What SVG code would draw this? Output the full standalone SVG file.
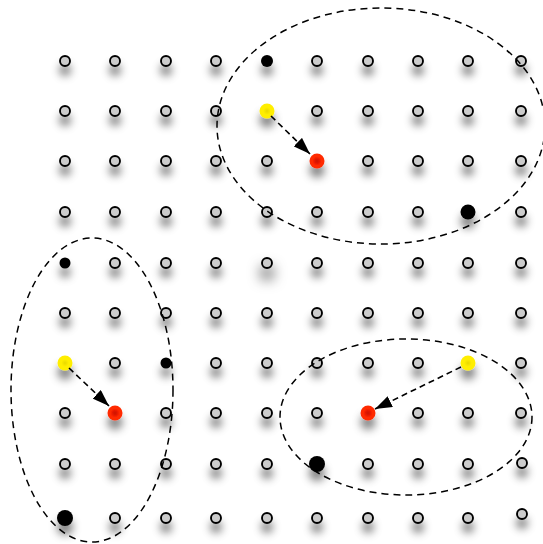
<svg xmlns="http://www.w3.org/2000/svg" width="543" height="544" viewBox="0 0 543 544">
<defs>
<filter id="sh" x="-200%" y="-200%" width="500%" height="500%">
<feGaussianBlur in="SourceAlpha" stdDeviation="4.5" result="b"/>
<feOffset in="b" dy="9" result="o"/>
<feFlood flood-color="#000" flood-opacity="0.5"/>
<feComposite in2="o" operator="in" result="s"/>
<feMerge><feMergeNode in="s"/><feMergeNode in="SourceGraphic"/></feMerge>
</filter>
<filter id="shBig" x="-300%" y="-300%" width="700%" height="700%">
<feGaussianBlur in="SourceAlpha" stdDeviation="7" result="b"/>
<feOffset in="b" dy="10" result="o"/>
<feFlood flood-color="#000" flood-opacity="0.8"/>
<feComposite in2="o" operator="in" result="s"/>
<feMerge><feMergeNode in="s"/><feMergeNode in="SourceGraphic"/></feMerge>
</filter>
<marker id="ah" viewBox="0 0 17 12" refX="17" refY="6" markerWidth="17" markerHeight="12" markerUnits="userSpaceOnUse" orient="auto">
<path d="M0,0 L17,6 L0,12 z" fill="#000"/>
</marker>
<radialGradient id="red"><stop offset="0" stop-color="#cc1500"/><stop offset="0.35" stop-color="#e81a00"/><stop offset="0.6" stop-color="#ff2a00"/></radialGradient>
<radialGradient id="yel"><stop offset="0" stop-color="#e8d800"/><stop offset="0.5" stop-color="#ffee00"/></radialGradient>
</defs>
<style>
.n{fill:#ccc;stroke:#000;stroke-width:1.9}
.b{fill:#000}
.e{fill:none;stroke:#000;stroke-width:1.5;stroke-dasharray:7,5}
.a{fill:none;stroke:#000;stroke-width:1.6;stroke-dasharray:6,4}
</style>
<rect width="543" height="544" fill="#fff"/>
<g id="grid" filter="url(#sh)">
<g id="row1"><circle class="n" cx="65" cy="61" r="5"/><circle class="n" cx="115" cy="61" r="5"/><circle class="n" cx="166" cy="61" r="5"/><circle class="n" cx="216" cy="61" r="5"/><circle class="n" cx="317" cy="61" r="5"/><circle class="n" cx="368" cy="61" r="5"/><circle class="n" cx="418" cy="61" r="5"/><circle class="n" cx="468" cy="61" r="5"/><circle class="n" cx="521" cy="61" r="5"/></g>
<g id="row2"><circle class="n" cx="65" cy="111" r="5"/><circle class="n" cx="115" cy="111" r="5"/><circle class="n" cx="166" cy="111" r="5"/><circle class="n" cx="216" cy="111" r="5"/><circle class="n" cx="317" cy="111" r="5"/><circle class="n" cx="368" cy="111" r="5"/><circle class="n" cx="418" cy="111" r="5"/><circle class="n" cx="468" cy="111" r="5"/><circle class="n" cx="521" cy="111" r="5"/></g>
<g id="row3"><circle class="n" cx="65" cy="161" r="5"/><circle class="n" cx="115" cy="161" r="5"/><circle class="n" cx="166" cy="161" r="5"/><circle class="n" cx="216" cy="161" r="5"/><circle class="n" cx="267" cy="161" r="5"/><circle class="n" cx="368" cy="161" r="5"/><circle class="n" cx="418" cy="161" r="5"/><circle class="n" cx="468" cy="161" r="5"/><circle class="n" cx="521" cy="161" r="5"/></g>
<g id="row4"><circle class="n" cx="65" cy="212" r="5"/><circle class="n" cx="115" cy="212" r="5"/><circle class="n" cx="166" cy="212" r="5"/><circle class="n" cx="216" cy="212" r="5"/><circle class="n" cx="267" cy="212" r="5"/><circle class="n" cx="317" cy="212" r="5"/><circle class="n" cx="368" cy="212" r="5"/><circle class="n" cx="418" cy="212" r="5"/><circle class="n" cx="521" cy="212" r="5"/></g>
<g id="row5"><circle class="n" cx="115" cy="263" r="5"/><circle class="n" cx="166" cy="263" r="5"/><circle class="n" cx="216" cy="263" r="5"/><circle class="n" cx="317" cy="263" r="5"/><circle class="n" cx="368" cy="263" r="5"/><circle class="n" cx="418" cy="263" r="5"/><circle class="n" cx="468" cy="263" r="5"/><circle class="n" cx="521" cy="263" r="5"/></g>
<g id="row6"><circle class="n" cx="65" cy="313" r="5"/><circle class="n" cx="115" cy="313" r="5"/><circle class="n" cx="166" cy="313" r="5"/><circle class="n" cx="216" cy="313" r="5"/><circle class="n" cx="267" cy="313" r="5"/><circle class="n" cx="317" cy="313" r="5"/><circle class="n" cx="368" cy="313" r="5"/><circle class="n" cx="418" cy="313" r="5"/><circle class="n" cx="468" cy="313" r="5"/><circle class="n" cx="521" cy="313" r="5"/></g>
<g id="row7"><circle class="n" cx="115" cy="363" r="5"/><circle class="n" cx="216" cy="363" r="5"/><circle class="n" cx="267" cy="363" r="5"/><circle class="n" cx="317" cy="363" r="5"/><circle class="n" cx="368" cy="363" r="5"/><circle class="n" cx="418" cy="363" r="5"/><circle class="n" cx="521" cy="363" r="5"/></g>
<g id="row8"><circle class="n" cx="65" cy="413" r="5"/><circle class="n" cx="166" cy="413" r="5"/><circle class="n" cx="216" cy="413" r="5"/><circle class="n" cx="267" cy="413" r="5"/><circle class="n" cx="317" cy="413" r="5"/><circle class="n" cx="418" cy="413" r="5"/><circle class="n" cx="468" cy="413" r="5"/><circle class="n" cx="521" cy="413" r="5"/></g>
<g id="row9"><circle class="n" cx="65" cy="464" r="5"/><circle class="n" cx="115" cy="464" r="5"/><circle class="n" cx="166" cy="464" r="5"/><circle class="n" cx="216" cy="464" r="5"/><circle class="n" cx="267" cy="464" r="5"/><circle class="n" cx="368" cy="464" r="5"/><circle class="n" cx="418" cy="464" r="5"/><circle class="n" cx="468" cy="464" r="5"/><circle class="n" cx="522" cy="463" r="5"/></g>
<g id="row10"><circle class="n" cx="115" cy="518" r="5"/><circle class="n" cx="166" cy="518" r="5"/><circle class="n" cx="216" cy="518" r="5"/><circle class="n" cx="267" cy="518" r="5"/><circle class="n" cx="317" cy="518" r="5"/><circle class="n" cx="368" cy="518" r="5"/><circle class="n" cx="418" cy="518" r="5"/><circle class="n" cx="468" cy="518" r="5"/><circle class="n" cx="522" cy="514" r="5"/></g>
<g id="special">
<circle id="b1" class="b" cx="267" cy="61" r="6"/>
<circle id="y1" fill="url(#yel)" cx="267" cy="111" r="7.5"/>
<circle id="r1" fill="url(#red)" cx="317" cy="161" r="7.5"/>
<circle id="b2" class="b" cx="468" cy="212" r="7.5"/>
<circle id="b3" class="b" cx="65" cy="263" r="5.5"/>
<circle id="y2" fill="url(#yel)" cx="65" cy="363" r="7.5"/>
<circle id="b4" class="b" cx="166" cy="363" r="5.5"/>
<circle id="r2" fill="url(#red)" cx="115" cy="413" r="7.5"/>
<circle id="y3" fill="url(#yel)" cx="468" cy="363" r="7.5"/>
<circle id="r3" fill="url(#red)" cx="368" cy="413" r="7.5"/>
<circle id="b5" class="b" cx="317" cy="464" r="8"/>
<circle id="b6" class="b" cx="65" cy="518" r="8"/>
</g>
</g>
<g id="n267-263" filter="url(#shBig)"><circle class="n" cx="267" cy="263" r="5"/></g>
<g id="clusters">
<ellipse class="e" cx="381" cy="126" rx="164" ry="118"/>
<ellipse class="e" cx="92" cy="390" rx="81" ry="152"/>
<ellipse class="e" cx="406" cy="417" rx="126" ry="78"/>
</g>
<g id="connectors">
<line class="a" x1="271" y1="116" x2="310" y2="154" marker-end="url(#ah)"/>
<line class="a" x1="69" y1="368" x2="109" y2="406" marker-end="url(#ah)"/>
<line class="a" x1="461" y1="367" x2="375" y2="409" marker-end="url(#ah)"/>
</g>
</svg>
